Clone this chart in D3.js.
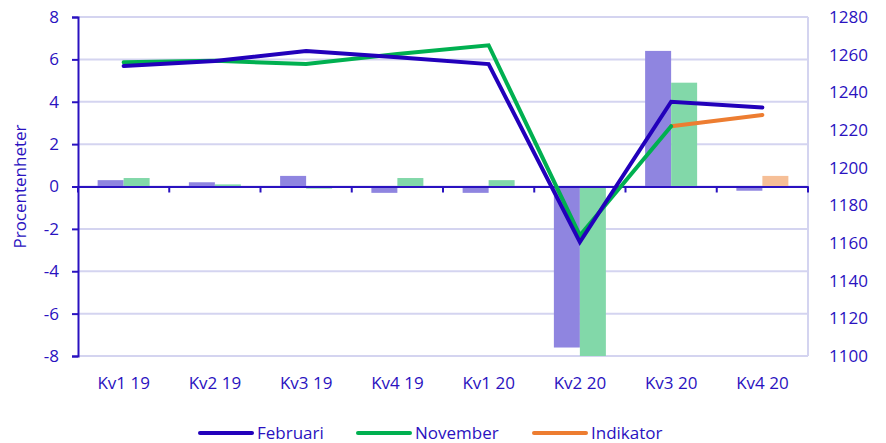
<!DOCTYPE html>
<meta charset="utf-8">
<body style="margin:0;background:#fff">
<script src="https://d3js.org/d3.v7.min.js"></script>
<script>
	// categories and series (bars: left axis, lines: right axis)
	var categories = ["Kv1 19", "Kv2 19", "Kv3 19", "Kv4 19", "Kv1 20", "Kv2 20", "Kv3 20", "Kv4 20"];
	var barFeb = [0.3, 0.2, 0.5, -0.3, -0.3, -7.6, 6.4, -0.2];
	var barNov = [0.4, 0.1, -0.1, 0.4, 0.3, -8.2, 4.9, null];
	var barInd = [null, null, null, null, null, null, null, 0.5];
	var lineFeb = [1254, 1256.6, 1262, 1258.6, 1255, 1160.5, 1235, 1232];
	var lineNov = [1256, 1256.8, 1255, 1260.4, 1265, 1164, 1222, null];
	var lineInd = [null, null, null, null, null, null, 1222, 1228];
	var leftTicks = [-8, -6, -4, -2, 0, 2, 4, 6, 8];
	var rightTicks = [1100, 1120, 1140, 1160, 1180, 1200, 1220, 1240, 1260, 1280];

	var textCol = "#2a12c0", gridCol = "#d4d4f0";
	var W = 886, H = 443;
	var m = {left: 78, right: 808, top: 17, bottom: 356};
	var fs = "17px";

	var svg = d3.select("body").append("svg")
		.attr("width", W).attr("height", H)
		.style("font-family", "'Open Sans', sans-serif");

	var x = d3.scaleBand().domain(categories).range([m.left, m.right]);
	var y = d3.scaleLinear().domain([-8, 8]).range([m.bottom, m.top]);
	var y2 = d3.scaleLinear().domain([1100, 1280]).range([m.bottom, m.top]);

	// gridlines
	svg.append("g").selectAll("line").data(leftTicks).enter().append("line")
		.attr("x1", m.left).attr("x2", m.right)
		.attr("y1", function(d) { return y(d); }).attr("y2", function(d) { return y(d); })
		.style("stroke", gridCol).style("stroke-width", 2);
	svg.append("line").attr("x1", m.right).attr("x2", m.right).attr("y1", m.top).attr("y2", m.bottom)
		.style("stroke", gridCol).style("stroke-width", 2);

	svg.append("clipPath").attr("id", "plot").append("rect")
		.attr("x", m.left).attr("y", m.top).attr("width", m.right - m.left).attr("height", m.bottom - m.top);

	var bw = 26;
	function bars(data, offset, color) {
		svg.append("g").attr("clip-path", "url(#plot)")
			.selectAll("rect").data(data.map(function(v, i) { return {v: v, c: categories[i]}; })
				.filter(function(d) { return d.v !== null; }))
			.enter().append("rect")
			.attr("x", function(d) { return x(d.c) + x.bandwidth() / 2 + offset; })
			.attr("width", bw)
			.attr("y", function(d) { return y(Math.max(0, d.v)); })
			.attr("height", function(d) { return Math.abs(y(d.v) - y(0)); })
			.style("fill", color);
	}
	bars(barFeb, -bw, "#8f85e0");
	bars(barNov, 0, "#82d8a9");
	bars(barInd, 0, "#f6bf97");

	// x axis at zero
	svg.append("g")
		.attr("transform", "translate(0," + y(0) + ")")
		.call(d3.axisBottom(x).tickSize(0).tickFormat(""))
		.call(function(g) {
			g.select(".domain").style("stroke", textCol).style("stroke-width", 2);
			g.selectAll(".tk").data(d3.range(categories.length + 1)).enter().append("line")
				.attr("x1", function(k) { return m.left + k * x.bandwidth(); })
				.attr("x2", function(k) { return m.left + k * x.bandwidth(); })
				.attr("y1", 0).attr("y2", 6)
				.style("stroke", textCol).style("stroke-width", 2);
		});

	// category labels
	svg.append("g").selectAll("text").data(categories).enter().append("text")
		.attr("x", function(d) { return x(d) + x.bandwidth() / 2; })
		.attr("y", 389)
		.attr("text-anchor", "middle")
		.style("font-size", fs).style("fill", textCol)
		.text(function(d) { return d; });

	// left axis
	svg.append("g")
		.attr("transform", "translate(" + m.left + ",0)")
		.call(d3.axisLeft(y).tickValues(leftTicks).tickSize(6).tickPadding(13).tickFormat(function(d) { return String(d); }))
		.call(function(g) {
			g.select(".domain").style("stroke", textCol).style("stroke-width", 2);
			g.selectAll(".tick line").style("stroke", textCol).style("stroke-width", 2);
			g.selectAll("text").style("font-size", fs).style("fill", textCol).style("font-family", "'Open Sans', sans-serif");
		});

	// right axis
	svg.append("g")
		.attr("transform", "translate(" + m.right + ",0)")
		.call(d3.axisRight(y2).tickValues(rightTicks).tickSize(0).tickPadding(21).tickFormat(function(d) { return String(d); }))
		.call(function(g) {
			g.select(".domain").remove();
			g.selectAll("text").style("font-size", fs).style("fill", textCol).style("font-family", "'Open Sans', sans-serif");
		});

	svg.append("text")
		.attr("transform", "translate(26," + y(0) + ") rotate(-90)")
		.attr("text-anchor", "middle")
		.style("font-size", fs).style("fill", textCol)
		.text("Procentenheter");

	// lines
	var line = d3.line()
		.defined(function(d) { return d !== null; })
		.x(function(d, i) { return x(categories[i]) + x.bandwidth() / 2; })
		.y(function(d) { return y2(d); });
	function drawLine(data, color) {
		svg.append("path").datum(data)
			.attr("d", line)
			.style("fill", "none").style("stroke", color)
			.style("stroke-width", 4).style("stroke-linecap", "round").style("stroke-linejoin", "miter");
	}
	drawLine(lineInd, "#ed7d31");
	drawLine(lineNov, "#00b050");
	drawLine(lineFeb, "#2200bb");

	// legend
	var legend = [
		{name: "Februari", color: "#2200bb", x: 200},
		{name: "November", color: "#00b050", x: 358},
		{name: "Indikator", color: "#ed7d31", x: 534}
	];
	var lg = svg.append("g").selectAll("g").data(legend).enter().append("g");
	lg.append("line")
		.attr("x1", function(d) { return d.x; }).attr("x2", function(d) { return d.x + 52; })
		.attr("y1", 433).attr("y2", 433)
		.style("stroke", function(d) { return d.color; })
		.style("stroke-width", 4).style("stroke-linecap", "round");
	lg.append("text")
		.attr("x", function(d) { return d.x + 57; }).attr("y", 439)
		.style("font-size", fs).style("fill", textCol)
		.text(function(d) { return d.name; });
</script>
</body>
